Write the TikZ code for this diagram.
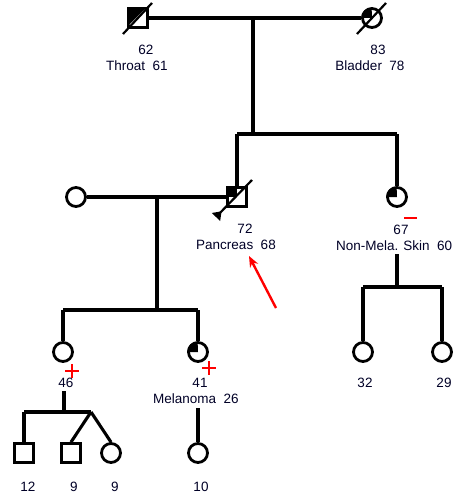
\documentclass[tikz,border=0pt]{standalone}
\usepackage{fontspec}
\setmainfont{Liberation Sans}
\usetikzlibrary{arrows.meta}
\begin{document}
\begin{tikzpicture}[x=1pt,y=-1pt,
  ln/.style={line width=3.1pt},
  male/.style={draw,rectangle,minimum size=19pt,inner sep=0pt,line width=2.8pt,fill=white},
  female/.style={draw,circle,minimum size=19pt,inner sep=0pt,line width=2.8pt,fill=white},
  lbl/.style={inner sep=0pt,font=\fontsize{13.5}{15}\selectfont,text=black!85!blue},
  redmark/.style={red,line width=2.6pt},
  slash/.style={line width=2.2pt}
]
\useasboundingbox (0,0) rectangle (454,495);

% generation I
\node[male] (gf) at (138,18) {};
\node[female] (gm) at (372,18) {};
\fill (gf.north west) -- (gf.north east) -- (gf.south west) -- cycle;
\fill (gm.center) -- (gm.west) arc[start angle=180,end angle=90,radius=10.5pt] -- cycle;
\coordinate (gfs1) at (123,34); \coordinate (gfs2) at (152,3);
\coordinate (gms1) at (357,34); \coordinate (gms2) at (386,3);
\coordinate (gfw1) at (130,25); \coordinate (gfw2) at (145,10);
\draw[white,line width=1.2pt] (gfw1) -- (gfw2);
\draw[slash] (gfs1) -- (gfs2);
\draw[slash] (gms1) -- (gms2);
\node[lbl] (gfa) at (146,50) {62};
\node[lbl] (gfc) at (137,66) {Throat\ \ 61};
\node[lbl] (gma) at (378,50) {83};
\node[lbl] (gmc) at (370,66) {Bladder\ \ 78};
\draw[ln] (gf.east) -- (gm.west);
\coordinate (m1) at (253,18);
\coordinate (s1) at (253,134);
\coordinate (s1l) at (237,134);
\coordinate (s1r) at (397,134);

% generation II
\node[male] (pb) at (237,197) {};
\node[female] (au) at (397,197) {};
\node[female] (sp) at (76,197) {};
\fill (pb.north west) rectangle (pb.center);
\fill (au.center) -- (au.west) arc[start angle=180,end angle=90,radius=10.5pt] -- cycle;
\draw[ln] (m1) -- (s1);
\draw[ln] (s1l) -- (s1r);
\draw[ln] (s1l) -- (pb.north);
\draw[ln] (s1r) -- (au.north);
\draw[ln] (sp.east) -- (pb.west);
\coordinate (pbs1) at (216,217); \coordinate (pbs2) at (252,180);
\draw[slash,{Triangle[reversed,length=8pt,width=11pt]}-] (pbs1) -- (pbs2);
\node[lbl] (pba) at (245,229) {72};
\node[lbl] (pbc) at (236,245) {Pancreas\ \ 68};
\coordinate (aum1) at (404,218); \coordinate (aum2) at (417,218);
\draw[redmark] (aum1) -- (aum2);
\node[lbl] (aua) at (401,230) {67};
\node[lbl,anchor=west] (auc) at (336,246) {Non-Mela. Skin\ \ 60};

\coordinate (rat) at (249,256); \coordinate (raf) at (276,308);
\draw[red,line width=2.4pt,-{Stealth[length=11pt,width=9pt]}] (raf) -- (rat);

% right sibship
\coordinate (r1) at (397,254);
\coordinate (r2) at (397,287);
\coordinate (r2l) at (363,287);
\coordinate (r2r) at (442,287);
\node[female] (c32) at (363,352) {};
\node[female] (c29) at (442,352) {};
\draw[ln] (r1) -- (r2);
\draw[ln] (r2l) -- (r2r);
\draw[ln] (r2l) -- (c32.north);
\draw[ln] (r2r) -- (c29.north);
\node[lbl] (c32a) at (365,383) {32};
\node[lbl] (c29a) at (444,383) {29};

% left sibship
\coordinate (m2) at (157,197);
\coordinate (s2) at (157,310);
\coordinate (s2l) at (63,310);
\coordinate (s2r) at (198,310);
\node[female] (d46) at (63,352) {};
\node[female] (d41) at (198,352) {};
\fill (d41.center) -- (d41.west) arc[start angle=180,end angle=90,radius=10.5pt] -- cycle;
\draw[ln] (m2) -- (s2);
\draw[ln] (s2l) -- (s2r);
\draw[ln] (s2l) -- (d46.north);
\draw[ln] (s2r) -- (d41.north);
\coordinate (p1a) at (65,371); \coordinate (p1b) at (79,371);
\coordinate (p1c) at (72,364); \coordinate (p1d) at (72,378);
\draw[redmark] (p1a) -- (p1b); \draw[redmark] (p1c) -- (p1d);
\coordinate (p2a) at (202,368); \coordinate (p2b) at (216,368);
\coordinate (p2c) at (209,361); \coordinate (p2d) at (209,375);
\draw[redmark] (p2a) -- (p2b); \draw[redmark] (p2c) -- (p2d);
\node[lbl] (d46a) at (66,383) {46};
\node[lbl] (d41a) at (200,383) {41};
\node[lbl] (d41c) at (196,399) {Melanoma\ \ 26};

% generation IV
\coordinate (t1) at (64,391);
\coordinate (t2) at (64,412);
\coordinate (t2l) at (24,412);
\coordinate (t2r) at (91,412);
\node[male] (g12) at (24,453) {};
\node[male] (g9a) at (71,453) {};
\node[female] (g9b) at (111,453) {};
\draw[ln] (t1) -- (t2);
\draw[ln] (t2l) -- (t2r);
\draw[ln] (t2l) -- (g12.north);
\draw[ln] (t2r) -- (g9a.north);
\draw[ln] (t2r) -- (g9b.north);
\coordinate (u1) at (198,408);
\node[female] (g10) at (198,453) {};
\draw[ln] (u1) -- (g10.north);
\node[lbl] (g12a) at (28,487) {12};
\node[lbl] (g9aa) at (74,487) {9};
\node[lbl] (g9ba) at (115,487) {9};
\node[lbl] (g10a) at (201,487) {10};
\end{tikzpicture}
\end{document}
